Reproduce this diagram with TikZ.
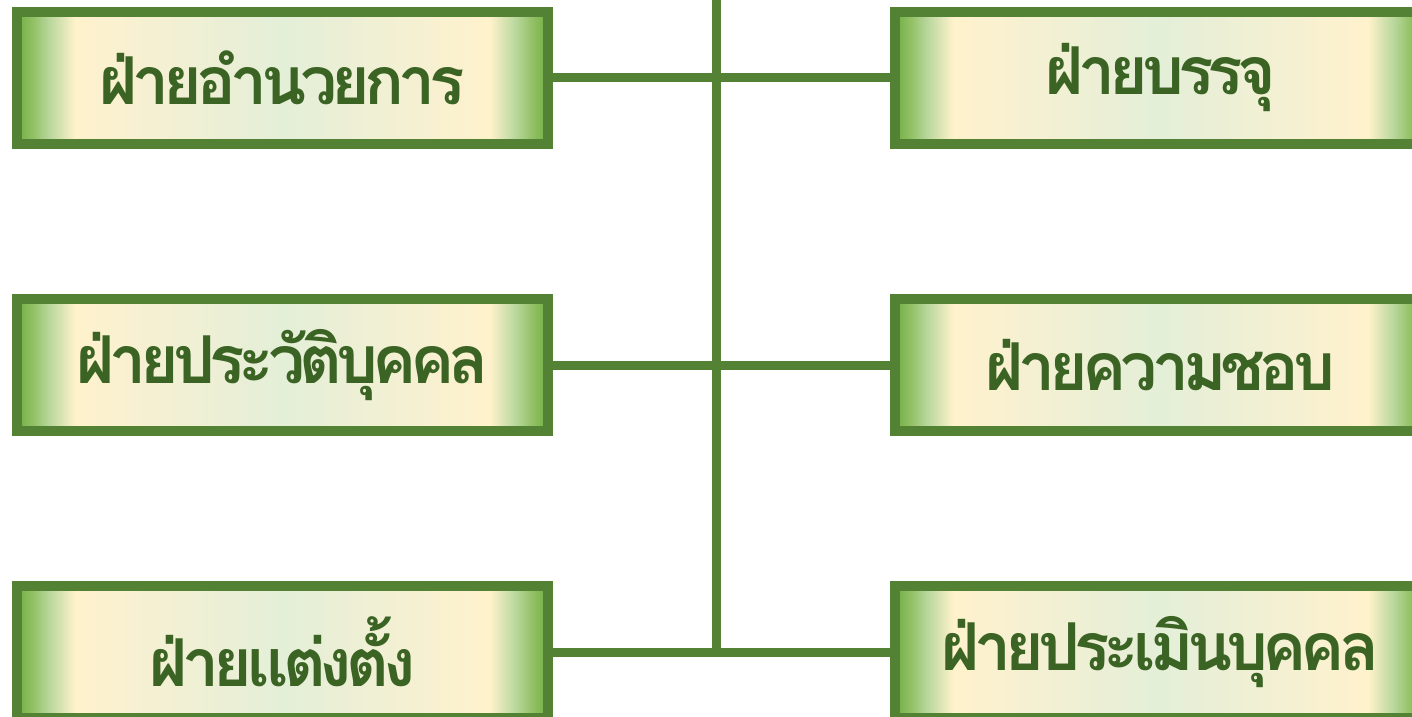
\documentclass[tikz,border=0pt]{standalone}
\usepackage{fontspec}
\newfontfamily\thaifont[Script=Thai,LetterSpace=-9]{Loma}
\definecolor{bordergreen}{HTML}{548235}
\definecolor{textgreen}{HTML}{3A6324}
\definecolor{gA}{HTML}{6FB043}
\definecolor{gB}{HTML}{B7D79B}
\definecolor{creamA}{HTML}{FFF2CC}
\definecolor{creamB}{HTML}{F6F0D2}
\definecolor{paleG}{HTML}{E4EFD8}
\pgfdeclarehorizontalshading{boxshade}{100bp}{color(0bp)=(gA); color(25bp)=(gA); color(26.5bp)=(gA!75!creamA); color(28bp)=(gB); color(30.5bp)=(creamA); color(37bp)=(creamB); color(50bp)=(paleG); color(63bp)=(creamB); color(69.5bp)=(creamA); color(72bp)=(gB); color(73.5bp)=(gA!75!creamA); color(75bp)=(gA); color(100bp)=(gA)}
\tikzset{
  unitbox/.style={draw=bordergreen, line width=10pt, shading=boxshade,
    minimum width=531pt, minimum height=132pt, inner sep=0pt,
    font=\thaifont\bfseries\fontsize{66}{72}\selectfont, text=textgreen},
  link/.style={draw=bordergreen, line width=9pt}
}
\begin{document}
\begin{tikzpicture}[x=1pt,y=1pt]
\useasboundingbox (0,0) rectangle (1412,716);
\clip (0,0) rectangle (1412,716);
\node[unitbox] (l1) at (282.5,638) {ฝ่ายอำนวยการ};
\node[unitbox] (l2) at (282.5,351) {ฝ่ายประวัติบุคคล};
\node[unitbox] (l3) at (282.5,64) {ฝ่ายแต่งตั้ง};
\node[unitbox] (r1) at (1160.5,638) {ฝ่ายบรรจุ};
\node[unitbox] (r2) at (1160.5,351) {ฝ่ายความชอบ};
\node[unitbox] (r3) at (1160.5,64) {ฝ่ายประเมินบุคคล};
\coordinate (topend) at (716,725);
\coordinate (botend) at (716,64);
\draw[link] (topend) -- (botend);
\draw[link] (l1.east) -- (r1.west);
\draw[link] (l2.east) -- (r2.west);
\draw[link] (l3.east) -- (r3.west);
\end{tikzpicture}
\end{document}
